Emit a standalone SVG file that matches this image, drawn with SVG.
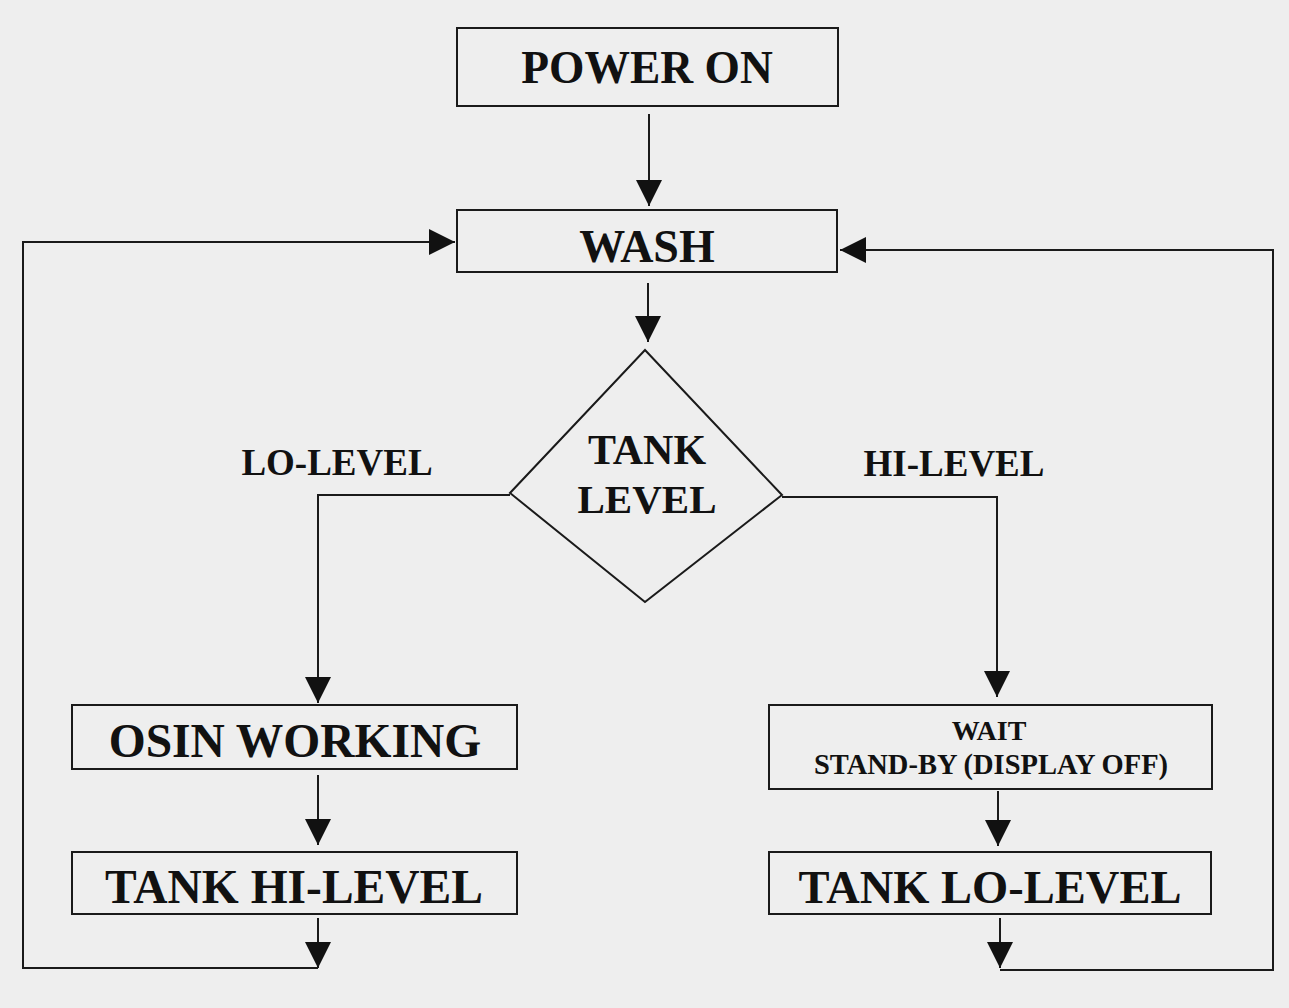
<svg xmlns="http://www.w3.org/2000/svg" width="1289" height="1008" viewBox="0 0 1289 1008">
<defs>
<style>
.box{fill:none;stroke:#1a1a1a;stroke-width:2}
.t{font-family:"Liberation Serif","Times New Roman",serif;font-weight:bold;fill:#111;text-anchor:middle}
.c{fill:none;stroke:#1a1a1a;stroke-width:2}
</style>
<marker id="ah" markerUnits="userSpaceOnUse" markerWidth="26" markerHeight="26" refX="26" refY="13" orient="auto">
<path d="M0,0 L26,13 L0,26 z" fill="#111"/>
</marker>
</defs>
<rect width="1289" height="1008" fill="#eeeeee"/>
<g id="power-on">
<rect class="box" x="457" y="28" width="381" height="78"/>
<text class="t" x="647" y="83" font-size="45.5">POWER ON</text>
</g>
<g id="wash">
<rect class="box" x="457" y="210" width="380" height="62"/>
<text class="t" x="647" y="262" font-size="46">WASH</text>
</g>
<g id="tank-level">
<polygon class="box" points="645,350 782,495 645,602 510,493"/>
<text class="t" x="647" y="464" font-size="42">TANK</text>
<text class="t" x="647" y="513" font-size="41">LEVEL</text>
</g>
<g id="lo-level-label">
<text class="t" x="337" y="475" font-size="37">LO-LEVEL</text>
</g>
<g id="hi-level-label">
<text class="t" x="954" y="476" font-size="37">HI-LEVEL</text>
</g>
<g id="osin-working">
<rect class="box" x="72" y="705" width="445" height="64"/>
<text class="t" x="295" y="757" font-size="47.5">OSIN WORKING</text>
</g>
<g id="tank-hi-level">
<rect class="box" x="72" y="852" width="445" height="62"/>
<text class="t" x="294" y="903" font-size="47.5">TANK HI-LEVEL</text>
</g>
<g id="wait">
<rect class="box" x="769" y="705" width="443" height="84"/>
<text class="t" x="989" y="740" font-size="28">WAIT</text>
<text class="t" x="991" y="774" font-size="28.5">STAND-BY (DISPLAY OFF)</text>
</g>
<g id="tank-lo-level">
<rect class="box" x="769" y="852" width="442" height="62"/>
<text class="t" x="990" y="903" font-size="46.5">TANK LO-LEVEL</text>
</g>
<g id="connectors">
<path class="c" d="M649,114 V206" marker-end="url(#ah)"/>
<path class="c" d="M648,283 V342" marker-end="url(#ah)"/>
<path class="c" d="M510,495 H318 V703" marker-end="url(#ah)"/>
<path class="c" d="M782,497 H997 V697" marker-end="url(#ah)"/>
<path class="c" d="M318,775 V845" marker-end="url(#ah)"/>
<path class="c" d="M998,791 V846" marker-end="url(#ah)"/>
<path class="c" d="M318,918 V968" marker-end="url(#ah)"/>
<path class="c" d="M1000,918 V968" marker-end="url(#ah)"/>
<path class="c" d="M318,968 H23 V242 H455" marker-end="url(#ah)"/>
<path class="c" d="M1000,970 H1273 V250 H840" marker-end="url(#ah)"/>
</g>
</svg>
